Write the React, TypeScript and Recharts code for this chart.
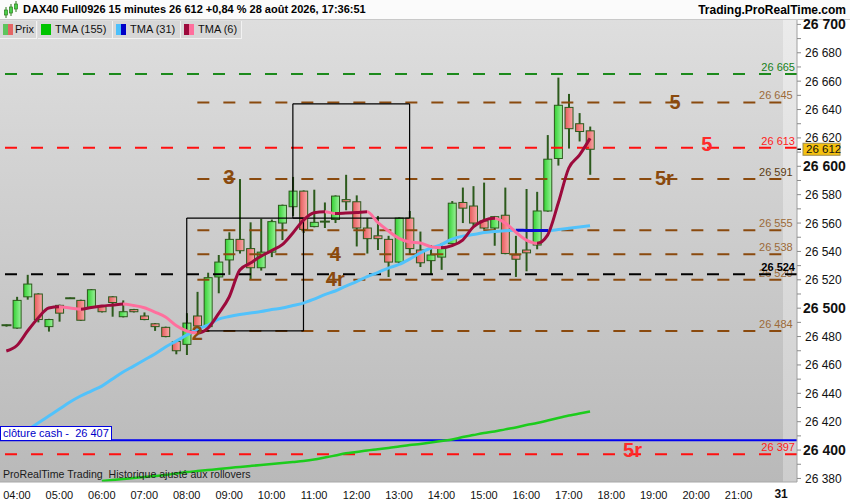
import {
  Bar,
  ComposedChart,
  Line,
  ReferenceDot,
  ReferenceLine,
  XAxis,
  YAxis,
} from 'recharts'

const FONT = '"Liberation Sans", Arial, sans-serif'

// 15 minute slots: the first bar is 03:45, the axis runs on to 22:15
const FIRST_SLOT = 3 * 60 + 45
const SLOT_COUNT = 75
const slots = Array.from({ length: SLOT_COUNT }, (_, i) => {
  const m = FIRST_SLOT + i * 15
  return `${String(Math.floor(m / 60)).padStart(2, '0')}:${String(m % 60).padStart(2, '0')}`
})

const hourTicks = [
  '04:00', '05:00', '06:00', '07:00', '08:00', '09:00', '10:00', '11:00', '12:00',
  '13:00', '14:00', '15:00', '16:00', '17:00', '18:00', '19:00', '20:00', '21:00',
]
const dayTick = '22:00'
const dayLabel = '31'

const priceTicks = Array.from({ length: 33 }, (_, i) => 26380 + i * 10)

// DAX40 15 min bars, 03:45 -> 17:30
const opens = [
  26488, 26486, 26508, 26510, 26487, 26502, 26507, 26505.5, 26500.5, 26501,
  26508, 26494, 26499, 26494.5, 26489, 26486.5, 26476.5, 26474.5, 26494.5, 26487,
  26522, 26534, 26548.5, 26542, 26528.5, 26539.5, 26560, 26571.5, 26582.5, 26557.5,
  26561, 26562.5, 26576.5, 26575, 26556.5, 26551, 26548.5, 26532.5, 26563.5, 26541,
  26533.5, 26536, 26545.5, 26574.5, 26572, 26561.5, 26556.5, 26565.5, 26537.5, 26541,
  26544.5, 26568.5, 26605.5, 26641.5, 26630, 26625,
]
const highs = [
  26488.5, 26508, 26523.5, 26510.5, 26492.5, 26502.5, 26507.5, 26506, 26513.5, 26501.5,
  26508.5, 26505.5, 26499.5, 26497, 26489.5, 26487, 26477, 26496.5, 26511.5, 26525,
  26537.5, 26553.5, 26591, 26560.5, 26563, 26562.5, 26573, 26592.5, 26583, 26583.5,
  26574.5, 26579.5, 26594, 26579.5, 26563.5, 26565, 26551, 26564, 26568.5, 26554,
  26544.5, 26546, 26575.5, 26585, 26586, 26588.5, 26565, 26585, 26551, 26584,
  26582, 26622, 26662.5, 26651, 26637.5, 26628,
]
const lows = [
  26487, 26485.5, 26506, 26490, 26483.5, 26490.5, 26506.5, 26491, 26500, 26497,
  26494, 26493.5, 26497, 26491.5, 26484, 26479.5, 26467.5, 26467, 26484, 26486.5,
  26510.5, 26523.5, 26538.5, 26520, 26526.5, 26536, 26548, 26565, 26553, 26557,
  26556.5, 26560, 26569, 26543.5, 26538.5, 26541, 26522, 26531, 26537.5, 26529,
  26523.5, 26527, 26545, 26560, 26557.5, 26555.5, 26544, 26538, 26522, 26526,
  26541.5, 26568, 26600.5, 26612.5, 26617.5, 26594,
]
const closes = [
  26488, 26505.5, 26517, 26492, 26492, 26496.5, 26507, 26491.5, 26513, 26497.5,
  26504, 26497.5, 26497.5, 26492, 26487, 26480, 26470, 26489.5, 26487.5, 26521.5,
  26532.5, 26548.5, 26540.5, 26528.5, 26539.5, 26561, 26572.5, 26582.5, 26555.5, 26560.5,
  26561, 26579, 26575, 26556.5, 26549, 26549, 26532.5, 26563.5, 26542, 26532,
  26537.5, 26542, 26574, 26570.5, 26560, 26556.5, 26564.5, 26538.5, 26534.5, 26539,
  26568.5, 26605, 26643, 26626.5, 26624.5, 26612,
]

// moving averages, each starting at the slot index given
const tma6Start = 0
const tma6 = [
  26469.8, 26473.7, 26483.9, 26493.1, 26500.1, 26501, 26500.1, 26499.2, 26500.5, 26501.5,
  26502.2, 26502.9, 26501.9, 26500.3, 26497.3, 26493.8, 26487.8, 26483.9, 26482.5, 26486,
  26496.2, 26507.9, 26526.9, 26531.8, 26536.7, 26540.6, 26544.8, 26553, 26562.1, 26567.3,
  26568, 26566.7, 26567, 26567.4, 26568, 26560.4, 26554.4, 26549.2, 26546.6, 26545.9,
  26543.4, 26542.6, 26544.1, 26548, 26557.2, 26561.8, 26563.3, 26560, 26553.7, 26548,
  26545.7, 26551.5, 26573.9, 26598.8, 26607.9, 26619.7,
]
const tma31Start = 2
const tma31 = [
  26414.1, 26419.1, 26424, 26428.9, 26433.9, 26438.1, 26441.6, 26445.1, 26450.1, 26455,
  26459.2, 26463.5, 26467.7, 26472.6, 26476.8, 26481.1, 26485.3, 26488.1, 26492.3, 26494.1,
  26495.5, 26496.6, 26497.6, 26499, 26500.1, 26501.9, 26503.6, 26506.4, 26509.6, 26512.1,
  26515.6, 26518.8, 26522.3, 26525.1, 26528.3, 26530.8, 26534.6, 26538.9, 26542.4, 26544.8,
  26548.7, 26550.8, 26551.9, 26553.3, 26554, 26554.6, 26554.9, 26554.8, 26554.7, 26554.7,
  26555.4, 26556.3, 26557.2, 26558.1,
]
const tma155Start = 9
const tma155 = [
  26378.2, 26378.9, 26379.6, 26380.3, 26381, 26381.7, 26382.4, 26383.5, 26384.5, 26385.2,
  26385.9, 26386.6, 26387.4, 26388.1, 26388.8, 26389.5, 26390.2, 26390.9, 26391.6, 26392.3,
  26393.3, 26394.7, 26396.2, 26397.7, 26398.6, 26399.7, 26400.5, 26401.4, 26402.5, 26403.6,
  26404.3, 26405.3, 26406.4, 26407.4, 26409.2, 26410.6, 26412, 26413.1, 26414.6, 26415.9,
  26417.7, 26419.1, 26420.8, 26422.6, 26424.3, 26425.8, 26427.2,
]

// horizontal levels
const targetLevel = 26665
const brownLevels = [26645, 26591, 26555, 26538, 26520, 26484]
const brownFrom = '08:15'
const redLevels = [26613, 26397]
const pivotLevel = 26524
const cashClose = 26407

// the two drawn boxes: [from, to, low, high]
const boxes: [string, string, number, number][] = [
  ['08:00', '10:45', 26484, 26563.5],
  ['10:30', '13:15', 26563.5, 26644],
]

// hand-written marks on the chart
const markTexts = ['3', '4', '4r', '2', '5', '5', '5r', '5r']
const markTimes = ['09:00', '11:30', '11:30', '08:15', '19:30', '20:15', '19:15', '18:30']
const markPrices = [26592.4, 26538.2, 26520.5, 26482.5, 26645.3, 26615.7, 26591.7, 26400]
const redMarks = [5, 7]

const pick = (arr: number[], start: number, i: number) =>
  i >= start && i - start < arr.length ? arr[i - start] : null

const rows = slots.map((t, i) => {
  const has = i < opens.length
  return {
    t,
    o: has ? opens[i] : null,
    h: has ? highs[i] : null,
    l: has ? lows[i] : null,
    c: has ? closes[i] : null,
    range: has ? [lows[i], highs[i]] : null,
    tma6: pick(tma6, tma6Start, i),
    tma31: pick(tma31, tma31Start, i),
    tma155: pick(tma155, tma155Start, i),
  }
})

const fmt = (v: number) =>
  `${Math.floor(v / 1000)} ${String(Math.round(v % 1000)).padStart(3, '0')}`

// hard colour stops along a line: one colour while rising, another otherwise
function slopeStops(values: number[], up: string, down: string) {
  const n = values.length - 1
  const stops: { offset: number; color: string }[] = []
  for (let j = 0; j < n; j++) {
    const color = values[j + 1] > values[j] ? up : down
    stops.push({ offset: j / n, color }, { offset: (j + 1) / n, color })
  }
  return stops
}

const WICK = '#2c5a1c'
const BROWN = '#8a4a0e'

function Candle(props: any) {
  const { x, y, width, height, payload } = props
  if (!payload || payload.o == null || !height) return <g />
  const { o, h, l, c } = payload
  const ppu = height / (h - l)
  const yAt = (v: number) => y + (h - v) * ppu
  const cx = x + width / 2
  const top = yAt(Math.max(o, c))
  const bottom = yAt(Math.min(o, c))
  return (
    <g>
      <line x1={cx} x2={cx} y1={yAt(h)} y2={yAt(l)} stroke={WICK} strokeWidth={2} />
      {o === c ? (
        <line x1={x - 0.5} x2={x + width + 0.5} y1={top} y2={top} stroke={WICK} strokeWidth={2} />
      ) : (
        <rect
          x={x + 0.5}
          y={top}
          width={width - 1}
          height={Math.max(bottom - top, 1)}
          fill={c > o ? 'url(#greenBody)' : 'url(#redBody)'}
          stroke={WICK}
          strokeWidth={1}
        />
      )}
    </g>
  )
}

function TimeTick(props: any) {
  const { x, y, payload } = props
  const v = payload?.value
  const isDay = v === dayTick
  if (!isDay && !hourTicks.includes(v)) return <g />
  return (
    <text
      x={x}
      y={y + (isDay ? 8 : 9)}
      textAnchor="middle"
      fontSize={isDay ? 12 : 11}
      fontWeight={isDay ? 'bold' : 'normal'}
      fontFamily={FONT}
      fill="#111"
    >
      {isDay ? dayLabel : v}
    </text>
  )
}

function PriceTick(props: any) {
  const { x, y, payload } = props
  const v = payload.value
  const major = v % 20 === 0
  const bold = v % 100 === 0
  return (
    <g>
      <line x1={x} x2={x + 4} y1={y} y2={y} stroke="#8a8a8a" />
      {major && (
        <text
          x={x + (bold ? 6 : 8)}
          y={y + (bold ? 5 : 4.5)}
          fontSize={bold ? 14 : 12}
          fontWeight={bold ? 'bold' : 'normal'}
          fontFamily={FONT}
          fill="#111"
        >
          {fmt(v)}
        </text>
      )}
    </g>
  )
}

function LevelLabel(props: any) {
  const { viewBox, text, color, bold, shift = 0 } = props
  if (!viewBox) return <g />
  return (
    <text
      x={viewBox.x + viewBox.width - 2 + shift}
      y={viewBox.y - 3}
      textAnchor="end"
      fontSize={11}
      fontWeight={bold ? 'bold' : 'normal'}
      fontFamily={FONT}
      fill={color}
    >
      {text}
    </text>
  )
}

function PriceTag(props: any) {
  const { viewBox } = props
  if (!viewBox) return <g />
  const right = viewBox.x + viewBox.width
  const y = viewBox.y
  return (
    <g>
      <line x1={right} x2={right + 4} y1={y} y2={y} stroke="#000" strokeWidth={1.5} />
      <rect x={right + 6} y={y - 6} width={37} height={12} fill="#f5c10f" stroke="#9c8c50" />
      <text x={right + 9} y={y + 4} fontSize={11.5} fontFamily={FONT} fill="#111">
        {fmt(closes[closes.length - 1])}
      </text>
    </g>
  )
}

const tma6Stops = slopeStops(tma6, '#9c0a3c', '#ff6f9d')
const tma31Stops = slopeStops(tma31, '#52c2fb', '#0a0ad0')

const legend = [
  { left: 0, width: 37, text: 'Prix', textLeft: 15, icon: ['#5dc55d', '#e46464'] },
  { left: 38, width: 75, text: 'TMA (155)', textLeft: 17, icon: ['#00c400', '#00c400'] },
  { left: 113, width: 68, text: 'TMA (31)', textLeft: 17, icon: ['#4cc0fb', '#0000c8'] },
  { left: 181, width: 61, text: 'TMA (6)', textLeft: 17, icon: ['#9c0a3c', '#ff6f9d'] },
]

export default function App() {
  return (
    <div
      style={{
        position: 'absolute',
        left: 0,
        top: 0,
        width: 850,
        height: 500,
        overflow: 'hidden',
        background: '#fff',
        fontFamily: FONT,
      }}
    >
      {/* header */}
      <div
        style={{
          position: 'absolute',
          left: 0,
          top: 0,
          width: 850,
          height: 20,
          background: '#fbfbfb',
          borderBottom: '1px solid #c9c9c9',
          boxSizing: 'border-box',
        }}
      >
        <svg width={16} height={18} style={{ position: 'absolute', left: 3, top: 1 }}>
          <line x1={3} x2={3} y1={6} y2={17} stroke="#2c7a1c" />
          <rect x={1.5} y={9} width={3} height={5} fill="#4ad04a" stroke="#2c7a1c" strokeWidth={0.7} />
          <line x1={8} x2={8} y1={3} y2={15} stroke="#2c7a1c" />
          <rect x={6.5} y={6} width={3} height={6} fill="#4ad04a" stroke="#2c7a1c" strokeWidth={0.7} />
          <line x1={13} x2={13} y1={0} y2={11} stroke="#2c7a1c" />
          <rect x={11.5} y={3} width={3} height={5} fill="#4ad04a" stroke="#2c7a1c" strokeWidth={0.7} />
        </svg>
        <div
          style={{
            position: 'absolute',
            left: 23,
            top: 3,
            fontSize: 11,
            fontWeight: 'bold',
            color: '#000',
            whiteSpace: 'nowrap',
          }}
        >
          DAX40 Full0926 15 minutes 26 612 +0,84 % 28 août 2026, 17:36:51
        </div>
        <div
          style={{
            position: 'absolute',
            right: 4,
            top: 3,
            fontSize: 12,
            fontWeight: 'bold',
            color: '#000',
            whiteSpace: 'nowrap',
          }}
        >
          Trading.ProRealTime.com
        </div>
      </div>

      {/* plot background */}
      <div
        style={{
          position: 'absolute',
          left: 0,
          top: 20,
          width: 797,
          height: 462,
          background: 'linear-gradient(#dedede, #b9b9b9)',
        }}
      />
      <div
        style={{
          position: 'absolute',
          left: 783,
          top: 20,
          width: 14,
          height: 462,
          background: 'linear-gradient(#ebebeb, #cdcdcd)',
        }}
      />

      <div style={{ position: 'absolute', left: 0, top: 0 }}>
        <ComposedChart
          width={850}
          height={500}
          data={rows}
          margin={{ top: 20, right: 0, bottom: 0, left: 0 }}
          barCategoryGap={0}
        >
          <defs>
            <linearGradient id="greenBody" x1="0" y1="0" x2="1" y2="0">
              <stop offset="0%" stopColor="#33d133" />
              <stop offset="100%" stopColor="#9af29a" />
            </linearGradient>
            <linearGradient id="redBody" x1="0" y1="0" x2="1" y2="0">
              <stop offset="0%" stopColor="#e65a5a" />
              <stop offset="100%" stopColor="#f9a8a8" />
            </linearGradient>
            <linearGradient id="tma6Stroke" x1="0" y1="0" x2="1" y2="0">
              {tma6Stops.map((s, i) => (
                <stop key={i} offset={s.offset} stopColor={s.color} />
              ))}
            </linearGradient>
            <linearGradient id="tma31Stroke" x1="0" y1="0" x2="1" y2="0">
              {tma31Stops.map((s, i) => (
                <stop key={i} offset={s.offset} stopColor={s.color} />
              ))}
            </linearGradient>
          </defs>

          <XAxis
            dataKey="t"
            interval={0}
            height={18}
            padding={{ left: 1, right: 0 }}
            tickLine={false}
            axisLine={{ stroke: '#a8a8a8' }}
            tick={<TimeTick />}
          />
          <YAxis
            orientation="right"
            type="number"
            width={53}
            domain={[26377.5, 26703.1]}
            ticks={priceTicks}
            interval={0}
            allowDataOverflow
            tickLine={false}
            tickSize={0}
            tickMargin={0}
            axisLine={{ stroke: '#a0a0a0' }}
            tick={<PriceTick />}
          />

          <ReferenceLine
            y={targetLevel}
            stroke="#1c8a1c"
            strokeWidth={2}
            strokeDasharray="12 14"
            label={<LevelLabel text={fmt(targetLevel)} color="#17801a" />}
          />
          {brownLevels.map((v, i) => (
            <ReferenceLine
              key={`b${v}`}
              segment={[
                { x: brownFrom, y: v },
                { x: slots[slots.length - 1], y: v },
              ]}
              stroke={BROWN}
              strokeWidth={2}
              strokeDasharray="12 14"
              label={
                v === 26520 ? undefined : (
                  <LevelLabel text={fmt(v)} color={i === 1 ? '#5c3a10' : '#9c6a38'} shift={3} />
                )
              }
            />
          ))}
          <ReferenceLine
            segment={[
              { x: brownFrom, y: 26520 },
              { x: slots[slots.length - 1], y: 26520 },
            ]}
            stroke="none"
            label={<LevelLabel text={fmt(26520)} color="#9c6a38" shift={3} />}
          />
          {redLevels.map((v) => (
            <ReferenceLine
              key={`r${v}`}
              y={v}
              stroke="#ff1010"
              strokeWidth={2}
              strokeDasharray="12 14"
              label={<LevelLabel text={fmt(v)} color="#ff1a1a" />}
            />
          ))}
          <ReferenceLine
            y={pivotLevel}
            stroke="#000"
            strokeWidth={2}
            strokeDasharray="12 14"
            label={<LevelLabel text={fmt(pivotLevel)} color="#000" bold />}
          />
          <ReferenceLine y={cashClose} stroke="#0000f0" strokeWidth={2} />

          {boxes.flatMap(([a, b, lo, hi], k) => [
            <ReferenceLine key={`bx${k}a`} segment={[{ x: a, y: lo }, { x: b, y: lo }]} stroke="#000" strokeWidth={1.2} />,
            <ReferenceLine key={`bx${k}b`} segment={[{ x: a, y: hi }, { x: b, y: hi }]} stroke="#000" strokeWidth={1.2} />,
            <ReferenceLine key={`bx${k}c`} segment={[{ x: a, y: lo }, { x: a, y: hi }]} stroke="#000" strokeWidth={1.2} />,
            <ReferenceLine key={`bx${k}d`} segment={[{ x: b, y: lo }, { x: b, y: hi }]} stroke="#000" strokeWidth={1.2} />,
          ])}

          <Line
            dataKey="tma155"
            type="monotone"
            stroke="#1ccc1c"
            strokeWidth={2.5}
            dot={false}
            activeDot={false}
            isAnimationActive={false}
          />
          <Bar
            dataKey="range"
            barSize={9}
            shape={<Candle />}
            isAnimationActive={false}
          />
          <Line
            dataKey="tma31"
            type="monotone"
            stroke="url(#tma31Stroke)"
            strokeWidth={3}
            dot={false}
            activeDot={false}
            isAnimationActive={false}
          />
          <Line
            dataKey="tma6"
            type="monotone"
            stroke="url(#tma6Stroke)"
            strokeWidth={3}
            dot={false}
            activeDot={false}
            isAnimationActive={false}
          />

          {markTexts.map((text, i) => (
            <ReferenceDot
              key={`m${i}`}
              x={markTimes[i]}
              y={markPrices[i]}
              r={0}
              fill="none"
              stroke="none"
              label={{
                value: text,
                position: 'center',
                fill: redMarks.includes(i) ? '#ff2a2a' : BROWN,
                fontSize: 20,
                fontWeight: 'bold',
                fontFamily: FONT,
              }}
            />
          ))}

          <ReferenceLine
            y={closes[closes.length - 1]}
            stroke="none"
            label={<PriceTag />}
          />
        </ComposedChart>
      </div>

      {/* series legend */}
      {legend.map((item) => (
        <div
          key={item.text}
          style={{
            position: 'absolute',
            left: item.left,
            top: 21,
            width: item.width,
            height: 18,
            boxSizing: 'border-box',
            background: '#d7d7d7',
            borderRight: '1px solid #f2f2f2',
            borderBottom: '1px solid #f2f2f2',
          }}
        >
          <span
            style={{
              position: 'absolute',
              left: 3,
              top: 3,
              width: 5,
              height: 11,
              background: item.icon[0],
            }}
          />
          <span
            style={{
              position: 'absolute',
              left: 8,
              top: 3,
              width: 5,
              height: 11,
              background: item.icon[1],
            }}
          />
          <span
            style={{
              position: 'absolute',
              left: item.textLeft,
              top: 2,
              fontSize: 11,
              color: '#111',
              whiteSpace: 'nowrap',
            }}
          >
            {item.text}
          </span>
        </div>
      ))}

      {/* cash close tag */}
      <div
        style={{
          position: 'absolute',
          left: 0,
          top: 426,
          width: 112,
          height: 15,
          boxSizing: 'border-box',
          background: '#fff',
          border: '1px solid #0000e0',
          color: '#0000c8',
          fontSize: 11,
          lineHeight: '13px',
          paddingLeft: 2,
          whiteSpace: 'nowrap',
        }}
      >
        clôture cash -&nbsp; 26 407
      </div>

      <div
        style={{
          position: 'absolute',
          left: 3,
          top: 468,
          fontSize: 10.6,
          color: '#1a1a1a',
          whiteSpace: 'nowrap',
        }}
      >
        ProRealTime Trading&nbsp; Historique ajusté aux rollovers
      </div>
    </div>
  )
}
